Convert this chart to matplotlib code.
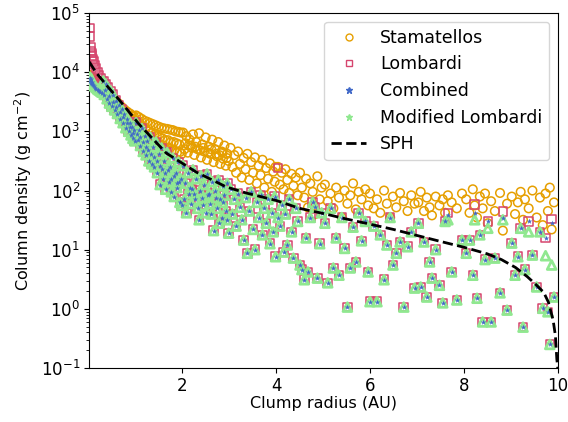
import numpy as np
import matplotlib
matplotlib.use("Agg")
import matplotlib.pyplot as plt
from matplotlib.lines import Line2D

# clump radii (AU), shared by all models
radius = [
    0.03, 0.04, 0.05, 0.06, 0.07, 0.08, 0.10, 0.12, 0.14, 0.17, 0.20, 0.23, 0.26, 0.29,
    0.32, 0.34, 0.37, 0.40, 0.42, 0.45, 0.48, 0.50, 0.53, 0.56, 0.59, 0.62, 0.65, 0.68,
    0.71, 0.74, 0.77, 0.80, 0.83, 0.86, 0.89, 0.91, 0.93, 0.95, 0.97, 0.99,
    1.02, 1.05, 1.08, 1.11, 1.14, 1.17, 1.20, 1.23, 1.26, 1.29, 1.32, 1.35, 1.38, 1.41,
    1.44, 1.47, 1.50, 1.53, 1.56, 1.59, 1.62, 1.65, 1.68, 1.71, 1.74, 1.77, 1.80, 1.83,
    1.86, 1.89, 1.92, 1.95, 1.97, 1.99,
    2.02, 2.05, 2.09, 2.12, 2.16, 2.19, 2.23, 2.26, 2.30, 2.33, 2.36, 2.40, 2.43, 2.47,
    2.50, 2.53, 2.57, 2.60, 2.64, 2.67, 2.70, 2.74, 2.77, 2.81, 2.84, 2.87, 2.90, 2.93,
    2.96, 2.99,
    3.03, 3.07, 3.11, 3.15, 3.19, 3.23, 3.27, 3.31, 3.35, 3.39, 3.43, 3.47, 3.51, 3.55,
    3.59, 3.63, 3.67, 3.71, 3.75, 3.79, 3.83, 3.87, 3.91, 3.94, 3.97, 3.99,
    4.04, 4.08, 4.12, 4.16, 4.20, 4.24, 4.28, 4.33, 4.37, 4.42, 4.46, 4.51, 4.55, 4.60,
    4.64, 4.68, 4.73, 4.78, 4.83, 4.88, 4.93, 4.97,
    5.04, 5.10, 5.16, 5.22, 5.28, 5.34, 5.40, 5.46, 5.52, 5.58, 5.64, 5.70, 5.76, 5.82,
    5.90, 5.96,
    6.00, 6.08, 6.15, 6.22, 6.30, 6.36, 6.43, 6.49, 6.56, 6.64, 6.72, 6.80, 6.88, 6.95,
    7.03, 7.08, 7.15, 7.21, 7.27, 7.32, 7.40, 7.48, 7.55, 7.60, 7.66, 7.74, 7.85, 7.96,
    8.05, 8.12, 8.19, 8.23, 8.28, 8.34, 8.40, 8.45, 8.51, 8.58, 8.66, 8.77, 8.83, 8.92,
    9.02, 9.09, 9.15, 9.21, 9.26, 9.30, 9.38, 9.46, 9.55, 9.62, 9.68, 9.74, 9.79, 9.83,
    9.87, 9.92,
    # clumps filling the middle of the dense inner bands
    0.35, 0.44, 0.52, 0.60, 0.67, 0.75, 0.82, 0.88, 0.96, 1.04, 1.10, 1.16, 1.22, 1.28,
    1.34, 1.40, 1.46, 1.52, 1.58, 1.64, 1.70, 1.76, 1.82, 1.88, 1.94, 2.07, 2.14, 2.21,
    2.28, 2.38, 2.45, 2.55, 2.62, 2.72, 2.79, 2.86, 2.95,
]

# column density (g cm^-2), Stamatellos model
stamatellos = [
    8900, 8900, 8300, 8300, 7900, 7900, 7600, 7600, 7200, 7100, 6900, 6600, 6300, 6200,
    6000, 5500, 5200, 4600, 4800, 4000, 4200, 3550, 3600, 3000, 3300, 2750, 2950, 2500,
    2600, 2200, 2350, 1900, 2150, 1750, 2000, 1650, 1850, 1600, 1800, 1500,
    1860, 1260, 1740, 1050, 1620, 955, 1510, 870, 1450, 790, 1380, 720, 1320, 690,
    1260, 630, 1200, 600, 1150, 550, 1120, 500, 1100, 525, 1070, 457, 1050, 480,
    1000, 437, 980, 447, 955, 417,
    955, 500, 830, 437, 725, 575, 890, 400, 660, 500, 930, 363, 600, 457,
    790, 331, 550, 417, 725, 302, 500, 380, 660, 282, 457, 347, 575, 263,
    417, 316,
    525, 251, 398, 200, 457, 282, 166, 355, 229, 417, 151, 302, 200, 363,
    132, 263, 182, 331, 112, 240, 158, 288, 95, 209, 141, 251,
    251, 126, 200, 105, 229, 151, 91, 191, 120, 166, 83, 200, 112, 76,
    158, 52, 132, 95, 40, 174, 71, 112,
    126, 66, 89, 50, 112, 76, 35, 100, 60, 83, 132, 48, 95, 71,
    105, 56,
    89, 50, 71, 42, 100, 60, 35, 79, 52, 91, 66, 45, 83, 60,
    63, 95, 45, 76, 52, 38, 79, 56, 71, 42, 83, 63, 50, 89,
    71, 42, 105, 56, 35, 79, 50, 89, 28, 66, 45, 91, 21, 60,
    79, 40, 63, 95, 32, 71, 50, 100, 35, 76, 26, 89, 45, 112,
    22, 63,
    5000, 4200, 3300, 2800, 2400, 2000, 1820, 1660, 1410, 1480, 1320, 1200, 1100, 1000,
    930, 870, 830, 795, 760, 710, 710, 660, 660, 630, 600, 630, 575, 525,
    550, 479, 525, 437, 500, 417, 398, 437, 355,
]

# Lombardi model
lombardi = [
    56000, 40000, 26000, 23000, 21000, 19000, 16600, 15100, 13200, 11500, 10000, 8900, 7900, 7100,
    7100, 4200, 6300, 3550, 5500, 3000, 4800, 2650, 4200, 2300, 3300, 2000, 2800, 1650,
    2400, 1400, 2000, 1150, 1650, 1000, 1400, 870, 1200, 760, 1050, 690,
    1400, 710, 1050, 575, 1120, 457, 830, 400, 690, 316, 790, 282, 550, 251,
    660, 200, 417, 126, 525, 158, 316, 105, 437, 141, 251, 95, 355, 79,
    200, 112, 302, 63, 158, 56,
    263, 71, 42, 200, 112, 60, 224, 89, 158, 50, 32, 178, 76, 126,
    42, 191, 89, 60, 141, 21, 100, 50, 151, 71, 35, 120, 83, 45,
    132, 19,
    105, 40, 71, 25, 89, 52, 32, 14.5, 76, 8.7, 45, 95, 22, 10,
    63, 35, 83, 17.8, 50, 28, 71, 12.6, 42, 20, 79, 7.6,
    240, 25, 56, 9.1, 40, 12, 71, 20, 7.2, 50, 30, 5.5, 4.6, 3.1,
    15.8, 4.2, 35, 63, 52, 3.3, 12.6, 42,
    28, 2.75, 50, 4.9, 15.8, 3.7, 35, 10.5, 1.07, 4.9, 24, 6.2, 42, 14.1,
    30, 4.2,
    1.32, 25, 1.32, 17.8, 3.1, 12, 35, 5.5, 8.7, 13.5, 1.07, 11.2, 20, 2.24,
    28, 2.34, 13.5, 1.58, 6.2, 3.3, 10, 2.5, 1.26, 30, 42, 4.2, 1.41, 14.5,
    8.7, 14.5, 3.7, 58, 1.51, 17.8, 0.60, 6.8, 30, 0.60, 7.2, 1.86, 44, 0.95,
    12.9, 3.7, 7.6, 23, 0.49, 4.6, 30, 8.1, 2.34, 20, 1.02, 15.8, 0.89, 0.25,
    33, 1.58,
    5000, 4000, 3160, 2630, 2090, 1740, 1380, 1200, 955, 912, 794, 661, 550, 479,
    417, 363, 316, 263, 229, 200, 224, 158, 178, 132, 141, 132, 89, 105,
    71, 100, 56, 83, 40, 76, 28, 63, 32,
]

# clumps where Combined / Modified Lombardi differ from Lombardi (radius: value)
combined_diff = {
    0.03: 7900, 0.04: 7200, 0.05: 6600, 0.06: 7600, 0.07: 6300, 0.08: 6900, 0.10: 6000,
    0.12: 5800, 0.14: 5500, 0.17: 5200, 0.20: 5000, 0.23: 4800, 0.26: 4600, 0.29: 4400,
    4.04: 35, 7.66: 38, 8.23: 42, 8.83: 35, 9.87: 28,
}
modified_diff = {
    0.03: 8300, 0.04: 7600, 0.05: 7100, 0.06: 7900, 0.07: 6800, 0.08: 7200, 0.10: 6300,
    0.12: 6000, 0.14: 5800, 0.17: 5500, 0.20: 5200, 0.23: 5000, 0.26: 4800, 0.29: 4600,
    4.04: 35, 7.66: 32, 8.23: 32, 8.51: 23, 8.83: 32, 9.38: 20, 9.74: 7.9, 9.87: 5.5,
}

# SPH profile
sph_r = [0.02, 0.17, 0.4, 0.66, 1.09, 1.66, 2.3, 2.94, 3.36, 4.0, 4.5, 5.0, 5.5, 6.0,
         6.5, 7.0, 7.5, 8.0, 8.5, 8.8, 9.1, 9.35, 9.55, 9.7, 9.8, 9.9, 9.95, 9.98, 10.0]
sph_sigma = [15000, 9800, 5900, 3400, 1300, 430, 205, 115, 91, 68, 50, 41, 33, 27,
             22, 17.4, 13.8, 11, 8.5, 6.8, 5.0, 3.5, 2.5, 1.9, 1.3, 0.65, 0.35, 0.14, 0.1]

combined = [combined_diff.get(r, v) for r, v in zip(radius, lombardi)]
modified = [modified_diff.get(r, v) for r, v in zip(radius, lombardi)]

c_stam = '#E69F00'
c_lomb = '#D6456E'
c_comb = '#4169C8'
c_mod = '#90E890'

plt.rcParams['font.family'] = 'DejaVu Sans'
fig = plt.figure(figsize=(5.68, 4.22), dpi=100)
ax = fig.add_axes([0.157, 0.128, 0.825, 0.841])

ax.scatter(radius, stamatellos, marker='o', s=38, facecolors='none',
           edgecolors=c_stam, linewidths=1.1, zorder=1)
ax.scatter(radius, lombardi, marker='s', s=38, facecolors='none',
           edgecolors=c_lomb, linewidths=1.1, zorder=2)
ax.scatter(radius, modified, marker='^', s=40, facecolors='none',
           edgecolors=c_mod, linewidths=2.0, zorder=3)
ax.scatter(radius, combined, marker='*', s=18, color=c_comb,
           linewidths=0, zorder=4)
ax.plot(sph_r, sph_sigma, 'k--', lw=2, zorder=5)

ax.set_yscale('log')
ax.set_xlim(0.02, 10)
ax.set_ylim(0.1, 1e5)
ax.set_xticks([2, 4, 6, 8, 10])
ax.tick_params(labelsize=12, pad=3)
ax.set_xlabel('Clump radius (AU)', fontsize=11.5, labelpad=1)
ax.set_ylabel('Column density (g cm$^{-2}$)', fontsize=11.5, labelpad=5)

handles = [
    Line2D([], [], marker='o', ls='none', markersize=5, markerfacecolor='none',
           markeredgecolor=c_stam, markeredgewidth=1.0),
    Line2D([], [], marker='s', ls='none', markersize=5, markerfacecolor='none',
           markeredgecolor=c_lomb, markeredgewidth=1.0),
    Line2D([], [], marker='*', ls='none', markersize=5, color=c_comb),
    Line2D([], [], marker='*', ls='none', markersize=5, color=c_mod),
    Line2D([], [], color='k', ls='--', lw=2),
]
labels = ['Stamatellos', 'Lombardi', 'Combined', 'Modified Lombardi', 'SPH']
ax.legend(handles, labels, loc='upper right', fontsize=12.5)

fig.savefig('out.png', dpi=100)
